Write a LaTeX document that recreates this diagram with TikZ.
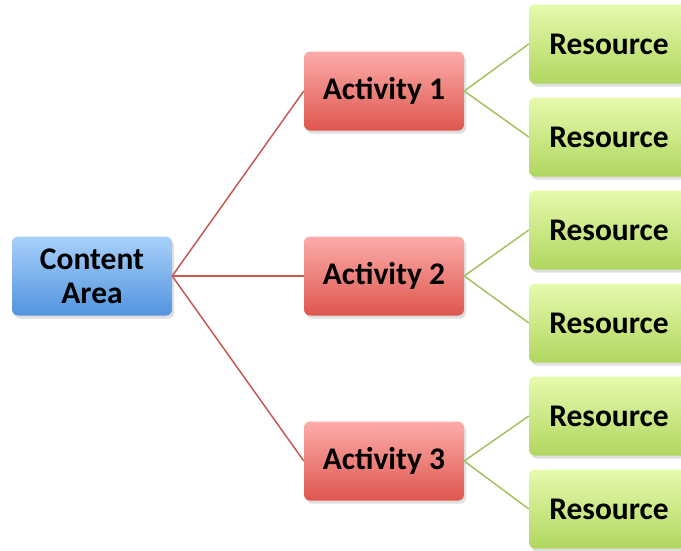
\documentclass[tikz,border=0pt]{standalone}
\usepackage{fontspec}
\setmainfont{Carlito}
\usetikzlibrary{shadows}

\definecolor{areatop}{RGB}{168,208,250}
\definecolor{areabot}{RGB}{82,148,222}
\definecolor{acttop}{RGB}{252,172,170}
\definecolor{actbot}{RGB}{222,86,78}
\definecolor{restop}{RGB}{230,250,172}
\definecolor{resbot}{RGB}{176,214,96}
\definecolor{actline}{RGB}{200,88,80}
\definecolor{resline}{RGB}{164,194,96}

\tikzset{
    box/.style={rounded corners=6pt, minimum width=160pt, minimum height=79pt,
        inner sep=0pt, align=center, font=\fontsize{31.5}{34}\selectfont\bfseries,
        drop shadow={opacity=0.25, shadow xshift=2pt, shadow yshift=-3pt}},
    area/.style={box, top color=areatop, bottom color=areabot},
    act/.style={box, top color=acttop, bottom color=actbot},
    res/.style={box, top color=restop, bottom color=resbot},
    actedge/.style={actline, line width=1.5pt},
    resedge/.style={resline, line width=1.5pt}
}

\begin{document}
\begin{tikzpicture}[x=1pt, y=-1pt]
        \useasboundingbox (0, 0) rectangle (681, 550);

        \newcommand{\actx}{384}
        \newcommand{\resx}{609}

        \node [area] (C) at (92, 276) {Content\\Area};

        \node [act] (A1) at (\actx, 91) {Activity 1};
        \node [act] (A2) at (\actx, 276) {Activity 2};
        \node [act] (A3) at (\actx, 461) {Activity 3};

        \node [res] (R1) at (\resx, 44) {Resource};
        \node [res] (R2) at (\resx, 137) {Resource};
        \node [res] (R3) at (\resx, 230) {Resource};
        \node [res] (R4) at (\resx, 323) {Resource};
        \node [res] (R5) at (\resx, 416) {Resource};
        \node [res] (R6) at (\resx, 509) {Resource};

        \draw [actedge] (A1.west) -- (C.east) -- (A3.west);
        \draw [actedge] (C.east) -- (A2.west);

        \draw [resedge] (R1.west) -- (A1.east) -- (R2.west);
        \draw [resedge] (R3.west) -- (A2.east) -- (R4.west);
        \draw [resedge] (R5.west) -- (A3.east) -- (R6.west);

    \end{tikzpicture}
\end{document}
